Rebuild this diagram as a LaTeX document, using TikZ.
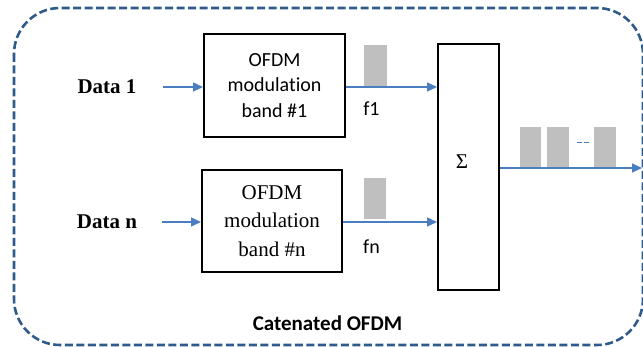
\documentclass[tikz,border=0pt]{standalone}
\usepackage{fontspec}
\setmainfont{Liberation Serif}
\newfontfamily\calfont[Ligatures=NoCommon]{Carlito}
\usetikzlibrary{arrows.meta}
\definecolor{arrblue}{HTML}{4A7EC0}
\definecolor{framblue}{HTML}{2F5B8C}
\definecolor{bargray}{HTML}{BFBFBF}
\tikzset{
  blk/.style={draw=black, line width=2pt, minimum width=#1, inner sep=0pt},
  arr/.style={draw=arrblue, line width=1.4pt, -{Triangle[length=10pt,width=9pt]}},
  bar/.style={fill=bargray},
  lbl/.style={inner sep=0pt, font=\calfont\fontsize{20}{24}\selectfont},
  datalbl/.style={inner sep=0pt, font=\bfseries\fontsize{21}{24}\selectfont}
}
\begin{document}
\begin{tikzpicture}[x=1pt,y=-1pt]
\useasboundingbox (0,0) rectangle (643,347);
% frame
\draw[framblue, line width=2.6pt, dash pattern=on 8pt off 3.5pt, rounded corners=46pt]
  (14,8) rectangle (643,345);
% boxes
\node[blk=141pt, minimum height=103pt, align=center,
  font=\calfont\fontsize{20}{25.5}\selectfont] (box1) at (274.5,85.5)
  {OFDM\\modulation\\band \#1};
\node[blk=140pt, minimum height=102pt, align=center,
  font=\fontsize{21}{28.5}\selectfont] (boxn) at (272,221)
  {OFDM\\modulation\\band \#n};
\node[blk=61pt, minimum height=246pt] (sigma) at (468.5,167) {};
\node[inner sep=0pt, font=\fontsize{21}{24}\selectfont] (sig) at (462,162) {Σ};
% labels
\node[datalbl] (d1) at (107,87) {Data 1};
\node[datalbl] (dn) at (107,222) {Data n};
\node[lbl] (f1) at (371.5,109) {f1};
\node[lbl] (fn) at (371.5,247) {fn};
\node[inner sep=0pt, font=\calfont\bfseries\fontsize{21}{24}\selectfont] (cat) at (327.5,323) {Catenated OFDM};
% bars
\fill[bar] (364,45) rectangle (387,86);
\fill[bar] (364,178) rectangle (386,219);
\fill[bar] (520,127) rectangle (541,168);
\fill[bar] (547,127) rectangle (569,168);
\fill[bar] (594,127) rectangle (616,168);
\draw[arrblue, line width=1pt, dash pattern=on 5pt off 2pt] (577,143) -- (590,143);
% arrows
\coordinate (d1s) at (163,87);
\coordinate (dns) at (162,222);
\coordinate (outend) at (642,168);
\draw[arr] (d1s) -- (d1s -| box1.west);
\draw[arr] (box1.east |- d1s) -- (sigma.west |- d1s);
\draw[arr] (dns) -- (dns -| boxn.west);
\draw[arr] (boxn.east |- dns) -- (sigma.west |- dns);
\draw[arr] (sigma.east |- outend) -- (outend);
\end{tikzpicture}
\end{document}
